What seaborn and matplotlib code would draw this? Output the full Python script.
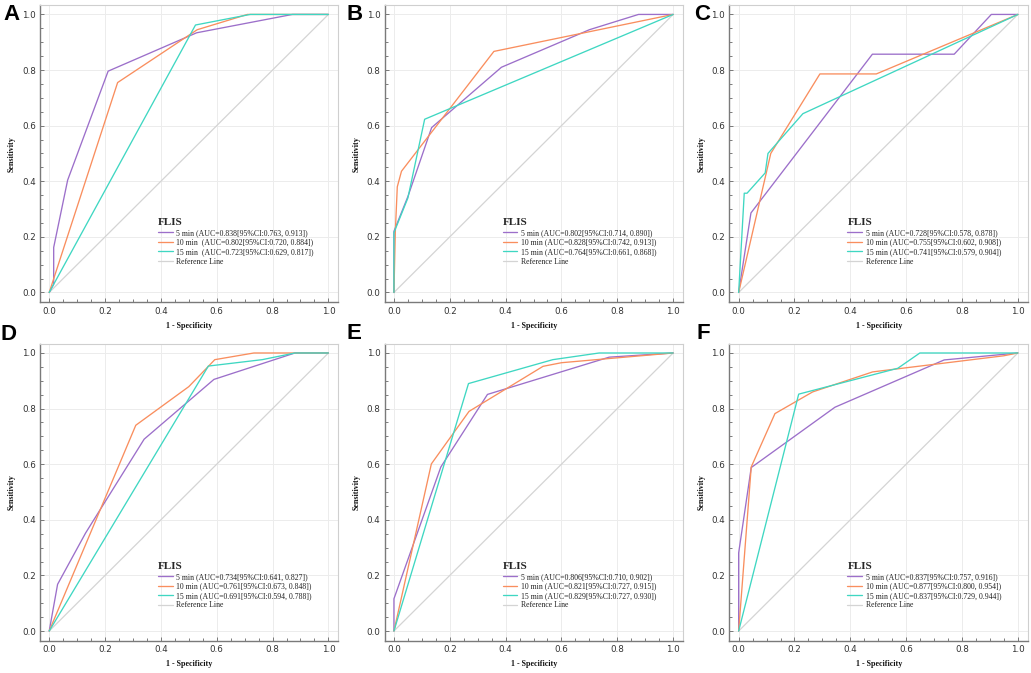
import numpy as np
import pandas as pd
import matplotlib
matplotlib.use("Agg")
import matplotlib.pyplot as plt
import seaborn as sns
from matplotlib.ticker import MultipleLocator, FormatStrFormatter

# ROC curves (1 - Specificity vs Sensitivity), 6 panels x 3 time points
A_fpr_5 = [0.0, 0.016, 0.016, 0.066, 0.211, 0.528, 0.871, 1.0]
A_tpr_5 = [0.0, 0.03, 0.162, 0.404, 0.796, 0.934, 1.0, 1.0]
A_fpr_10 = [0.0, 0.245, 0.53, 0.71, 1.0]
A_tpr_10 = [0.0, 0.755, 0.945, 1.0, 1.0]
A_fpr_15 = [0.0, 0.524, 0.72, 1.0]
A_tpr_15 = [0.0, 0.962, 1.0, 1.0]
A_labels = ["5 min (AUC=0.838[95%CI:0.763, 0.913])",
            "10 min  (AUC=0.802[95%CI:0.720, 0.884])",
            "15 min  (AUC=0.723[95%CI:0.629, 0.817])"]

B_fpr_5 = [0.0, 0.0, 0.05, 0.135, 0.385, 0.70, 0.876, 1.0]
B_tpr_5 = [0.0, 0.22, 0.345, 0.593, 0.81, 0.945, 1.0, 1.0]
B_fpr_10 = [0.0, 0.005, 0.012, 0.027, 0.358, 1.0]
B_tpr_10 = [0.0, 0.22, 0.38, 0.436, 0.867, 1.0]
B_fpr_15 = [0.0, 0.0, 0.05, 0.11, 1.0]
B_tpr_15 = [0.0, 0.215, 0.34, 0.623, 1.0]
B_labels = ["5 min (AUC=0.802[95%CI:0.714, 0.890])",
            "10 min (AUC=0.828[95%CI:0.742, 0.913])",
            "15 min (AUC=0.764[95%CI:0.661, 0.868])"]

C_fpr_5 = [0.0, 0.044, 0.479, 0.772, 0.905, 1.0]
C_tpr_5 = [0.0, 0.286, 0.857, 0.857, 1.0, 1.0]
C_fpr_10 = [0.0, 0.115, 0.291, 0.493, 1.0]
C_tpr_10 = [0.0, 0.5, 0.786, 0.786, 1.0]
C_fpr_15 = [0.0, 0.02, 0.03, 0.095, 0.105, 0.23, 1.0]
C_tpr_15 = [0.0, 0.357, 0.357, 0.43, 0.5, 0.643, 1.0]
C_labels = ["5 min (AUC=0.728[95%CI:0.578, 0.878])",
            "10 min (AUC=0.755[95%CI:0.602, 0.908])",
            "15 min (AUC=0.741[95%CI:0.579, 0.904])"]

D_fpr_5 = [0.0, 0.03, 0.13, 0.34, 0.59, 0.88, 1.0]
D_tpr_5 = [0.0, 0.168, 0.352, 0.69, 0.905, 1.0, 1.0]
D_fpr_10 = [0.0, 0.31, 0.50, 0.593, 0.733, 1.0]
D_tpr_10 = [0.0, 0.74, 0.879, 0.976, 1.0, 1.0]
D_fpr_15 = [0.0, 0.57, 0.763, 0.88, 1.0]
D_tpr_15 = [0.0, 0.953, 0.976, 1.0, 1.0]
D_labels = ["5 min (AUC=0.734[95%CI:0.641, 0.827])",
            "10 min (AUC=0.761[95%CI:0.673, 0.848])",
            "15 min (AUC=0.691[95%CI:0.594, 0.788])"]

E_fpr_5 = [0.0, 0.0, 0.168, 0.335, 0.771, 1.0]
E_tpr_5 = [0.0, 0.116, 0.59, 0.851, 0.985, 1.0]
E_fpr_10 = [0.0, 0.134, 0.269, 0.534, 0.6, 0.77, 1.0]
E_tpr_10 = [0.0, 0.601, 0.79, 0.952, 0.965, 0.98, 1.0]
E_fpr_15 = [0.0, 0.267, 0.569, 0.735, 1.0]
E_tpr_15 = [0.0, 0.89, 0.976, 1.0, 1.0]
E_labels = ["5 min (AUC=0.806[95%CI:0.710, 0.902])",
            "10 min (AUC=0.821[95%CI:0.727, 0.915])",
            "15 min (AUC=0.829[95%CI:0.727, 0.930])"]

F_fpr_5 = [0.0, 0.0, 0.045, 0.345, 0.736, 1.0]
F_tpr_5 = [0.0, 0.281, 0.588, 0.805, 0.975, 1.0]
F_fpr_10 = [0.0, 0.045, 0.13, 0.265, 0.48, 0.95, 1.0]
F_tpr_10 = [0.0, 0.59, 0.782, 0.86, 0.932, 0.99, 1.0]
F_fpr_15 = [0.0, 0.215, 0.57, 0.649, 1.0]
F_tpr_15 = [0.0, 0.852, 0.945, 1.0, 1.0]
F_labels = ["5 min (AUC=0.837[95%CI:0.757, 0.916])",
            "10 min (AUC=0.877[95%CI:0.800, 0.954])",
            "15 min (AUC=0.837[95%CI:0.729, 0.944])"]

ref_line = [0.0, 1.0]
ref_label = "Reference Line"
legend_title = "FLIS"
panel_letters = ["A", "B", "C", "D", "E", "F"]

colors = ["#9c6fca", "#f98e5e", "#3fd7c2"]
ref_color = "#d4d4d4"

panels = [
    (A_fpr_5, A_tpr_5, A_fpr_10, A_tpr_10, A_fpr_15, A_tpr_15, A_labels),
    (B_fpr_5, B_tpr_5, B_fpr_10, B_tpr_10, B_fpr_15, B_tpr_15, B_labels),
    (C_fpr_5, C_tpr_5, C_fpr_10, C_tpr_10, C_fpr_15, C_tpr_15, C_labels),
    (D_fpr_5, D_tpr_5, D_fpr_10, D_tpr_10, D_fpr_15, D_tpr_15, D_labels),
    (E_fpr_5, E_tpr_5, E_fpr_10, E_tpr_10, E_fpr_15, E_tpr_15, E_labels),
    (F_fpr_5, F_tpr_5, F_fpr_10, F_tpr_10, F_fpr_15, F_tpr_15, F_labels),
]

# panel letter positions in pixels (x, baseline)
letter_px = [(3, 20), (346, 20), (694, 20), (1, 340), (347, 339), (696, 339)]

sns.set_theme(style="white")
# tick labels use this; all other texts name their own family
plt.rcParams["font.family"] = ["Liberation Sans Narrow", "DejaVu Sans"]

W, H = 1031, 673
fig, axes = plt.subplots(2, 3, figsize=(W / 100, H / 100), dpi=100)
fig.subplots_adjust(left=0.0388, right=0.997, top=0.9926, bottom=0.0475,
                    wspace=0.155, hspace=0.138)

for i, (ax, p) in enumerate(zip(axes.flat, panels)):
    f5, t5, f10, t10, f15, t15, labels = p
    df = pd.DataFrame({
        "fpr": f5 + f10 + f15,
        "tpr": t5 + t10 + t15,
        "series": [labels[0]] * len(f5) + [labels[1]] * len(f10) + [labels[2]] * len(f15),
    })
    ref_df = pd.DataFrame({"fpr": ref_line, "tpr": ref_line})

    sns.lineplot(data=ref_df, x="fpr", y="tpr", color=ref_color, lw=0.9,
                 estimator=None, sort=False, ax=ax, legend=False)
    sns.lineplot(data=df, x="fpr", y="tpr", hue="series", hue_order=labels,
                 palette=colors, estimator=None, sort=False, lw=0.95,
                 ax=ax, legend=False)

    lines = ax.get_lines()
    handles = list(lines[1:4]) + [lines[0]]
    leg_y = 0.283 if i < 3 else 0.265
    leg = ax.legend(handles, labels + [ref_label], title=legend_title,
                    loc="upper left", bbox_to_anchor=(0.395, leg_y),
                    frameon=False, borderpad=0, borderaxespad=0,
                    prop={"family": "Liberation Serif", "size": 5.6},
                    title_fontproperties={"family": "Liberation Serif",
                                          "weight": "bold", "size": 8},
                    handlelength=1.9, handletextpad=0.45, labelspacing=0.2,
                    alignment="left")
    for t in leg.get_texts():
        t.set_color("#222222")

    ax.set_xlim(-0.033, 1.036)
    ax.set_ylim(-0.036, 1.034)
    ax.xaxis.set_major_locator(MultipleLocator(0.2))
    ax.yaxis.set_major_locator(MultipleLocator(0.2))
    ax.xaxis.set_minor_locator(MultipleLocator(0.05))
    ax.yaxis.set_minor_locator(MultipleLocator(0.05))
    ax.xaxis.set_major_formatter(FormatStrFormatter("%.1f"))
    ax.yaxis.set_major_formatter(FormatStrFormatter("%.1f"))
    ax.grid(True, which="major", color="#ececec", lw=0.7)
    ax.tick_params(which="major", direction="in", length=3, width=0.6,
                   color="#666666", labelsize=6.3, labelcolor="#333333", pad=3)
    ax.tick_params(which="minor", direction="in", length=2.5, width=0.6,
                   color="#666666")
    ax.tick_params(axis="x", which="both", bottom=True)
    ax.tick_params(axis="y", which="both", left=True)
    for side in ["left", "bottom"]:
        ax.spines[side].set_color("#7a7a7a")
        ax.spines[side].set_linewidth(1.0)
    for side in ["top", "right"]:
        ax.spines[side].set_color("#cfcfcf")
        ax.spines[side].set_linewidth(0.8)

    ax.set_xlabel("1 - Specificity", fontfamily="Liberation Serif",
                  fontweight="bold", fontsize=5.8, labelpad=4.5, color="#111111")
    ax.set_ylabel("Sensitivity", fontfamily="Liberation Serif",
                  fontweight="bold", fontsize=5.8, labelpad=4.5, color="#111111")

    lx, ly = letter_px[i]
    fig.text(lx / W, 1 - ly / H, panel_letters[i], fontfamily="Liberation Sans",
             fontweight="bold", fontsize=16, ha="left", va="baseline",
             color="black")

fig.savefig("out.png", dpi=100)
